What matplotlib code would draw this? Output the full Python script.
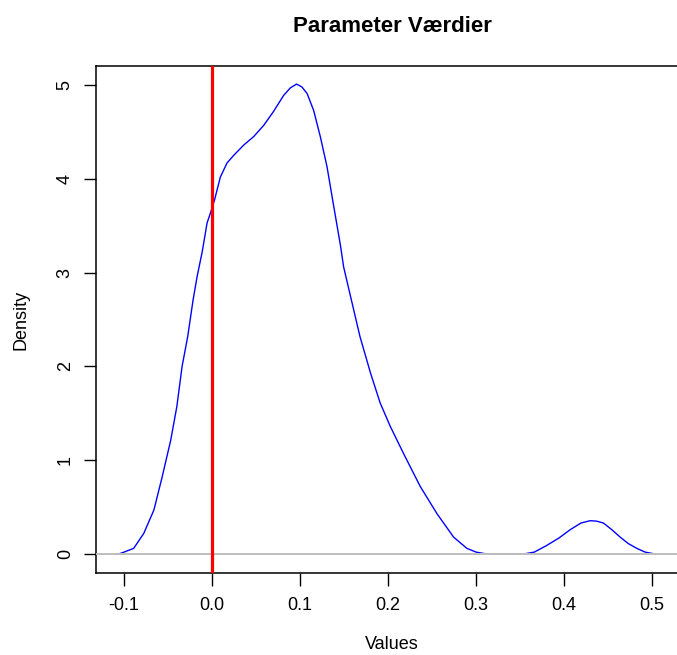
import matplotlib
matplotlib.use("Agg")
import matplotlib.pyplot as plt

plt.rcParams['font.family'] = ['Liberation Sans', 'DejaVu Sans']

# density curve
values = [-0.110, -0.106, -0.100, -0.089, -0.0775, -0.066, -0.0567, -0.047, -0.040,
          -0.034, -0.0276, -0.0215, -0.0169, -0.0112, -0.0056, -0.002, 0.0027, 0.0095,
          0.0171, 0.0246, 0.036, 0.0473, 0.0587, 0.070, 0.0814, 0.089, 0.096, 0.102,
          0.108, 0.1154, 0.123, 0.1306, 0.138, 0.1457, 0.1495, 0.159, 0.168, 0.180,
          0.191, 0.2025, 0.2176, 0.2365, 0.2555, 0.2744, 0.2895, 0.300, 0.312,
          0.354, 0.366, 0.380, 0.394, 0.407, 0.419, 0.4295, 0.437, 0.4446, 0.454,
          0.4636, 0.473, 0.4825, 0.492, 0.503]
density = [0.0, 0.0, 0.02, 0.06, 0.22, 0.47, 0.82, 1.21, 1.57,
           2.00, 2.32, 2.71, 2.96, 3.22, 3.53, 3.63, 3.77, 4.02,
           4.17, 4.25, 4.36, 4.45, 4.57, 4.72, 4.89, 4.97, 5.01, 4.98,
           4.91, 4.73, 4.45, 4.13, 3.72, 3.30, 3.06, 2.68, 2.32, 1.93,
           1.61, 1.36, 1.07, 0.72, 0.43, 0.18, 0.06, 0.02, 0.0,
           0.0, 0.02, 0.09, 0.17, 0.26, 0.33, 0.355, 0.35, 0.33, 0.26,
           0.18, 0.11, 0.06, 0.02, 0.0]
marker_x = 0.0

xticks = [-0.1, 0.0, 0.1, 0.2, 0.3, 0.4, 0.5]
xtick_labels = ['-0.1', '0.0', '0.1', '0.2', '0.3', '0.4', '0.5']
yticks = [0, 1, 2, 3, 4, 5]

fig = plt.figure(figsize=(6.77, 6.55), dpi=100)
ax = fig.add_axes([0.1418, 0.1252, 0.8745, 0.774])

ax.plot(values, density, color='#0000ff', lw=1.0, zorder=2)
ax.axhline(0, color='#bebebe', lw=1.4, zorder=3)
ax.axvline(marker_x, color='#ff0000', lw=2.3, zorder=4)

ax.set_xlim(-0.1318, 0.5407)
ax.set_ylim(-0.2026, 5.2026)
ax.set_xticks(xticks)
ax.set_xticklabels(xtick_labels)
ax.set_yticks(yticks)
ax.tick_params(axis='both', direction='out', length=9, width=1.0, labelsize=13)
ax.tick_params(axis='x', pad=8)
ax.tick_params(axis='y', pad=7)
for lab in ax.get_yticklabels():
    lab.set_rotation(90)
    lab.set_va('center')

for sp in ax.spines.values():
    sp.set_linewidth(1.1)
ax.spines['right'].set_visible(False)

ax.set_title('Parameter Værdier', fontsize=16, fontweight='bold', pad=24.5)
ax.set_xlabel('Values', fontsize=13)
ax.set_ylabel('Density', fontsize=13)
ax.xaxis.set_label_coords(0.5, -0.125)
ax.yaxis.set_label_coords(-0.1115, 0.5)

fig.savefig('out.png', dpi=100)
